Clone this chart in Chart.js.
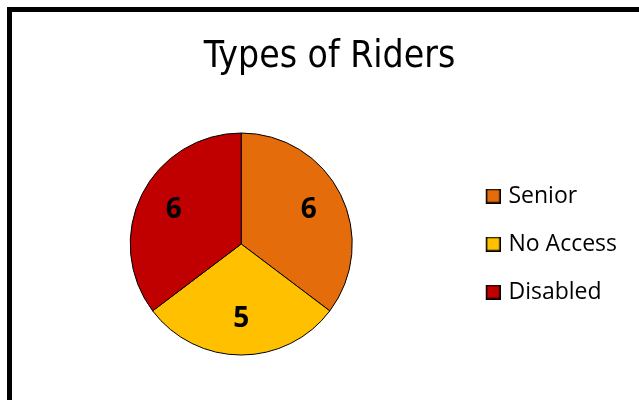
<!DOCTYPE html>
<html>
<head>
<meta charset="utf-8">
<script src="https://cdn.jsdelivr.net/npm/chart.js@4.4.1/dist/chart.umd.min.js"></script>
<style>
  html, body { margin: 0; padding: 0; background: #fff; overflow: hidden; }
  #frame {
    position: absolute; left: 7px; top: 7px;
    width: 1000px; height: 1000px;
    border: 5px solid #000;
  }
  #chart { position: absolute; left: 0; top: 0; }
</style>
</head>
<body>
<div id="frame"></div>
<canvas id="chart" width="639" height="400"></canvas>
<script>
// data
const categories = ['Senior', 'No Access', 'Disabled'];
const riders = [6, 5, 6];
const sliceColors = ['#E46C0A', '#FFC000', '#C00000'];

// legend swatch: square drawn inside a wider transparent canvas
function swatch(color) {
    const c = document.createElement('canvas');
    c.width = 29;
    c.height = 15;
    const g = c.getContext('2d');
    g.fillStyle = '#000';
    g.fillRect(14, 0, 15, 15);
    g.fillStyle = color;
    g.fillRect(15.5, 1.5, 12, 12);
    return c;
}

// numbers inside the slices
const sliceLabels = {
    id: 'sliceLabels',
    afterDatasetsDraw(chart) {
        const ctx = chart.ctx;
        const meta = chart.getDatasetMeta(0);
        const values = chart.data.datasets[0].data;
        ctx.save();
        ctx.font = 'bold 28px "Open Sans", sans-serif';
        ctx.fillStyle = '#000';
        ctx.textAlign = 'center';
        ctx.textBaseline = 'middle';
        meta.data.forEach((arc, i) => {
            const p = arc.getProps(['x', 'y', 'startAngle', 'endAngle', 'outerRadius'], true);
            const mid = (p.startAngle + p.endAngle) / 2;
            const r = p.outerRadius * 0.68;
            ctx.fillText(String(values[i]), p.x + Math.cos(mid) * r, p.y + Math.sin(mid) * r);
        });
        ctx.restore();
    }
};

const ctx = document.getElementById('chart').getContext('2d');

new Chart(ctx, {
    type: 'pie',
    data: {
        labels: categories,
        datasets: [{
            data: riders,
            backgroundColor: sliceColors,
            borderColor: '#000',
            borderWidth: 1
        }]
    },
    options: {
        responsive: false,
        animation: false,
        radius: 111,
        layout: { padding: { left: 32, right: 12, top: 0, bottom: 0 } },
        plugins: {
            title: {
                display: true,
                text: 'Types of Riders',
                color: '#000',
                font: { family: '"Liberation Sans Narrow", "Arial Narrow", "DejaVu Sans Condensed", sans-serif', size: 37, weight: 'normal', lineHeight: 1.2 },
                padding: { top: 35.3, bottom: 8.3 }
            },
            legend: {
                position: 'right',
                align: 'center',
                fullSize: false,
                labels: {
                    color: '#000',
                    font: { family: '"Open Sans", sans-serif', size: 23 },
                    usePointStyle: true,
                    boxWidth: 21.5,
                    boxHeight: 15,
                    padding: 25,
                    generateLabels(chart) {
                        const items = Chart.overrides.doughnut.plugins.legend.labels.generateLabels(chart);
                        return items.map(item => Object.assign(item, { pointStyle: swatch(item.fillStyle) }));
                    }
                }
            },
            tooltip: { enabled: false }
        }
    },
    plugins: [sliceLabels]
});
</script>
</body>
</html>
